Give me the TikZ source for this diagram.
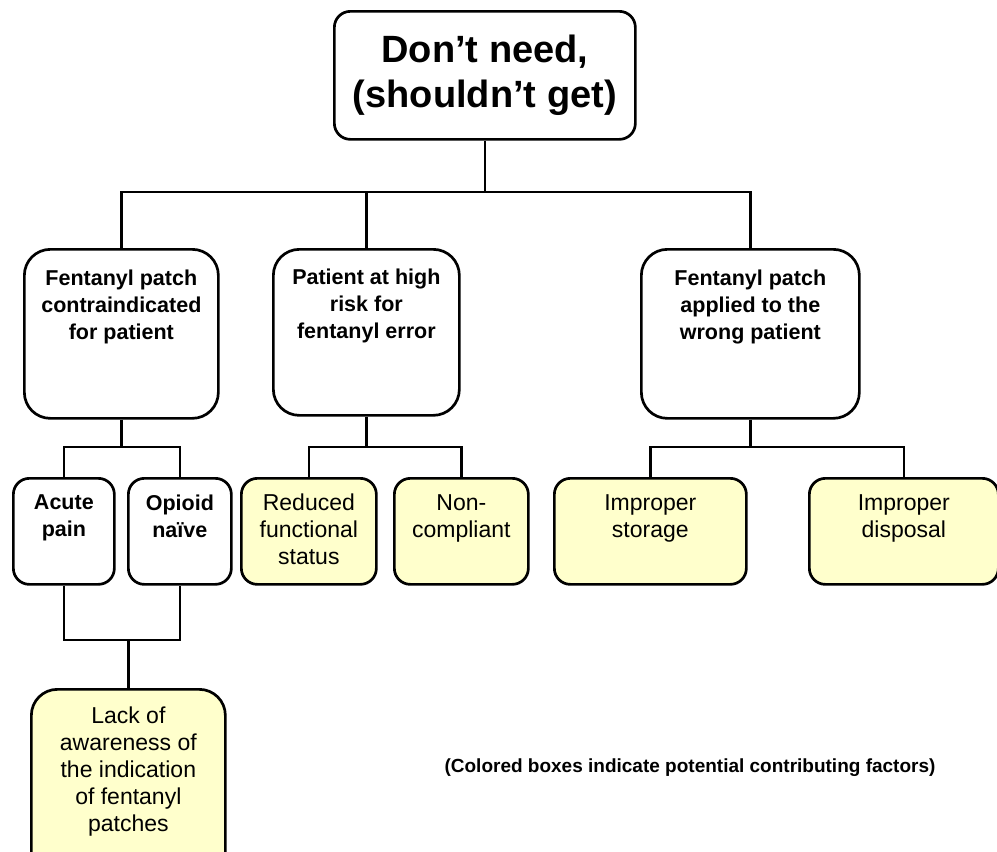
\documentclass[tikz,border=0pt]{standalone}
\usepackage{fontspec}
\setmainfont{Liberation Sans}
\definecolor{factor}{HTML}{FFFFCC}
\begin{document}
\begin{tikzpicture}[x=1pt,y=-1pt,
  box/.style={draw=black, line width=2.7pt, rounded corners=#1, inner sep=0pt, anchor=north west},
  box/.default=16pt,
  factorbox/.style={box=#1, fill=factor},
  factorbox/.default=16pt,
  link/.style={draw=black, line width=2.7pt},
  headtxt/.style={font=\fontsize{21.5}{27}\selectfont\bfseries, align=center, inner sep=0pt, anchor=north},
  plaintxt/.style={font=\fontsize{23}{27}\selectfont, align=center, inner sep=0pt, anchor=north}]
\useasboundingbox (0,0) rectangle (997,852);
\clip (0,0) rectangle (997,852);

% root
\node[box, minimum width=301pt, minimum height=128pt] (top) at (333,10) {};
\node[font=\fontsize{38}{45}\selectfont\bfseries, align=center, inner sep=0pt] (topt) at (top.center) {Don’t need,\\(shouldn’t get)};

% second level
\node[box=26pt, minimum width=194pt, minimum height=169pt] (L) at (23,248) {};
\node[box=26pt, minimum width=186pt, minimum height=166pt] (M) at (272,248) {};
\node[box=26pt, minimum width=218pt, minimum height=169pt] (R) at (640,248) {};
\node[headtxt] (Lt) at ([yshift=-22pt]L.north) {Fentanyl patch\\contraindicated\\for patient};
\node[headtxt] (Mt) at ([yshift=-21pt]M.north) {Patient at high\\risk for\\fentanyl error};
\node[headtxt] (Rt) at ([yshift=-22pt]R.north) {Fentanyl patch\\applied to the\\wrong patient};

% third level
\node[box, minimum width=101pt, minimum height=106pt] (acute) at (12,477) {};
\node[box, minimum width=103pt, minimum height=106pt] (opioid) at (127,477) {};
\node[factorbox, minimum width=135pt, minimum height=106pt] (reduced) at (240,477) {};
\node[factorbox, minimum width=134pt, minimum height=106pt] (noncomp) at (393,477) {};
\node[factorbox, minimum width=192pt, minimum height=106pt] (storage) at (553,477) {};
\node[factorbox, minimum width=189pt, minimum height=106pt] (disposal) at (808,477) {};
\node[headtxt] (acutet) at ([yshift=-18pt]acute.north) {Acute\\pain};
\node[headtxt] (opioidt) at ([yshift=-18pt]opioid.north) {Opioid\\naïve};
\node[plaintxt] (reducedt) at ([yshift=-17pt]reduced.north) {Reduced\\functional\\status};
\node[plaintxt] (noncompt) at ([yshift=-17pt]noncomp.north) {Non-\\compliant};
\node[plaintxt] (storaget) at ([yshift=-17pt]storage.north) {Improper\\storage};
\node[plaintxt] (disposalt) at ([yshift=-17pt]disposal.north) {Improper\\disposal};

% fourth level
\node[factorbox=26pt, minimum width=194pt, minimum height=190pt] (lack) at (30,688) {};
\node[plaintxt] (lackt) at ([yshift=-19pt]lack.north) {Lack of\\awareness of\\the indication\\of fentanyl\\patches};

% legend
\node[font=\fontsize{19}{22}\selectfont\bfseries, inner sep=0pt] (note) at (690,768) {(Colored boxes indicate potential contributing factors)};

% connectors
\coordinate (y0) at (0,192);
\draw[link] (top.south) -- (top.south |- y0);
\draw[link] (L.north) |- (R.north |- y0) -- (R.north);
\draw[link] (M.north) -- (M.north |- y0);

\coordinate (y1) at (0,447);
\draw[link] (L.south) -- (L.south |- y1);
\draw[link] (acute.north) |- (opioid.north |- y1) -- (opioid.north);
\draw[link] (M.south) -- (M.south |- y1);
\draw[link] (reduced.north) |- (noncomp.north |- y1) -- (noncomp.north);
\draw[link] (R.south) -- (R.south |- y1);
\draw[link] (storage.north) |- (disposal.north |- y1) -- (disposal.north);

\coordinate (y2) at (0,640);
\draw[link] (acute.south) |- (opioid.south |- y2) -- (opioid.south);
\draw[link] (lack.north) -- (lack.north |- y2);
\end{tikzpicture}
\end{document}
